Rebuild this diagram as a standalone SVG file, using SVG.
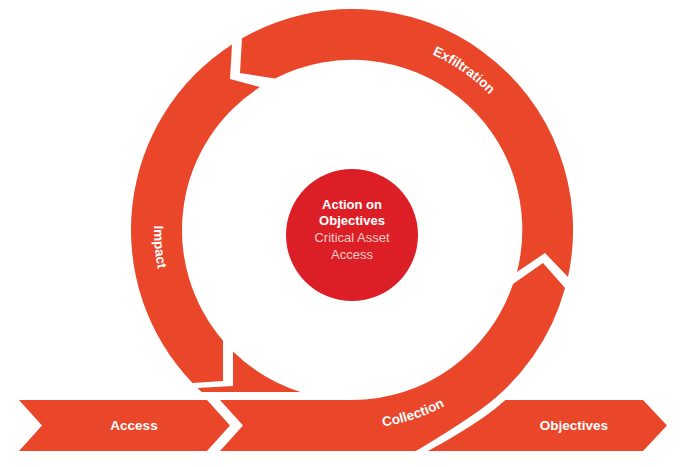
<svg xmlns="http://www.w3.org/2000/svg" width="691" height="467" viewBox="0 0 691 467">
<style>
.band{fill:#E9462A}
.lbl{font-family:"Liberation Sans",Arial,sans-serif;font-weight:700;font-size:13.5px;fill:#ffffff}
.ctr{font-family:"Liberation Sans",Arial,sans-serif;font-size:13px;text-anchor:middle}
</style>
<defs>
<path id="pExf" d="M 271.3,56.9 A 189 189 0 0 1 542.3,246.7" fill="none"/>
<path id="pImp" d="M 172.6,146.3 A 198 198 0 0 0 189.8,343.6" fill="none"/>
<path id="pCol" d="M 312,424.9 A 199 199 0 0 0 500.8,362.1" fill="none"/>
</defs>
<rect width="691" height="467" fill="#ffffff"/>
<g id="connectors"></g>
<g id="access">
<path class="band" d="M 19,400 L 207,400 L 230,425.5 L 207,451 L 19,451 L 42,425.5 Z"/>
<text class="lbl" x="134" y="430" text-anchor="middle">Access</text>
</g>
<g id="objectives">
<path class="band" d="M 505.4,400 L 643,400 L 667,425.5 L 643,451 L 428,451 Q 461,433 484.4,416.7 A 229 229 0 0 0 505.4,400 Z"/>
<text class="lbl" x="574" y="430" text-anchor="middle">Objectives</text>
</g>
<g id="collection">
<path class="band" d="M 220,400 L 352,400 A 170 170 0 0 0 513,284 L 543,263 L 565,288 A 221 221 0 0 1 480,410 Q 453,429 416,451 L 220,451 L 243,425.5 Z"/>
<text class="lbl"><textPath href="#pCol" startOffset="50%" text-anchor="middle">Collection</textPath></text>
</g>
<g id="exfiltration">
<path class="band" d="M 242,38.3 L 240,73 L 275,78.4 A 170 170 0 0 1 517,272 L 545,253 L 568,277 A 221 221 0 0 0 242,38.3 Z"/>
<text class="lbl"><textPath href="#pExf" startOffset="50%" text-anchor="middle">Exfiltration</textPath></text>
</g>
<g id="impact">
<path class="band" d="M 232,44.4 L 230,79 L 260,87 A 170 170 0 0 0 223,340.7 L 223,381 L 192.5,383 A 221 221 0 0 1 232,44.4 Z"/>
<text class="lbl"><textPath href="#pImp" startOffset="50%" text-anchor="middle">Impact</textPath></text>
</g>
<g id="ring-bottom">
<path class="band" d="M 233,351.4 L 233,386 L 197.5,388 A 221 221 0 0 0 201.7,392 L 300.5,392 A 170 170 0 0 1 233,351.4 Z"/>
</g>
<g id="center">
<circle cx="352" cy="235" r="66" fill="#DC1F26"/>
<text class="ctr" x="352" y="209" font-weight="700" font-size="14" fill="#ffffff">Action on</text>
<text class="ctr" x="352" y="225" font-weight="700" font-size="14" fill="#ffffff">Objectives</text>
<text class="ctr" x="352" y="242" fill="#F8CDC9">Critical Asset</text>
<text class="ctr" x="352" y="259" fill="#F8CDC9">Access</text>
</g>
</svg>
